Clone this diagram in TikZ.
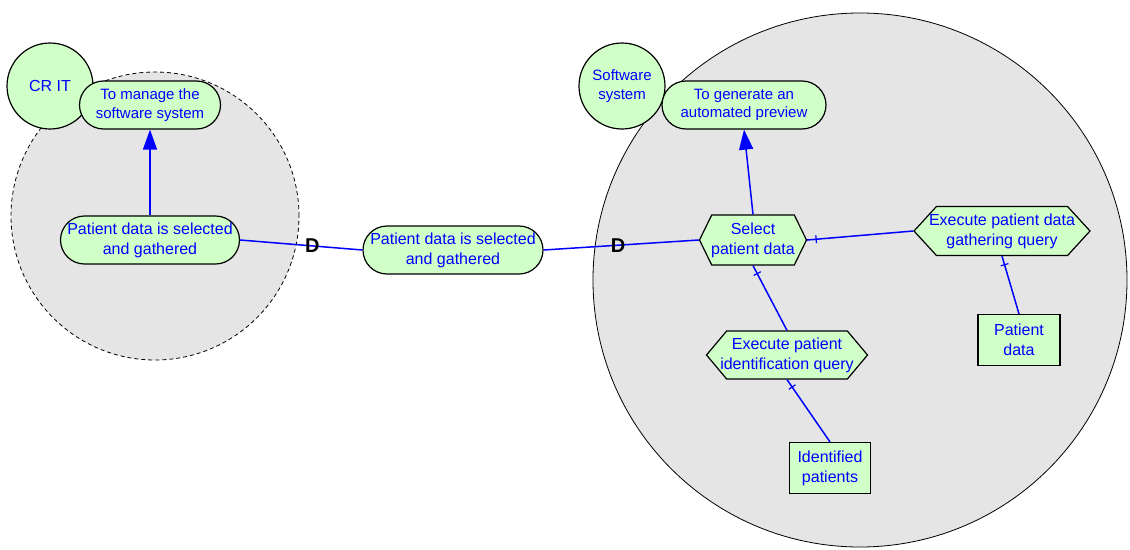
\documentclass[tikz,border=0pt]{standalone}
\usepackage{fontspec}
\setmainfont{Liberation Sans}
\usetikzlibrary{shapes.symbols,arrows.meta,decorations.markings}

\definecolor{leaf}{RGB}{208,255,200}
\definecolor{bound}{RGB}{229,229,229}
\definecolor{ink}{RGB}{0,0,255}

\newcommand{\mainsize}{\fontsize{16}{20}\selectfont}
\newcommand{\smallsize}{\fontsize{15}{18.5}\selectfont}

\tikzset{
  boundary/.style={circle, draw=black, fill=bound, line width=0.8pt, inner sep=0pt},
  actor/.style={circle, draw=black, fill=leaf, line width=1.2pt, inner sep=0pt,
    minimum size=86pt, text=ink, align=center},
  % pill-shaped goal: rectangle whose corner radius is half its height
  goal/.style={rectangle, rounded corners=24pt, draw=black, fill=leaf, line width=1.2pt,
    inner sep=0pt, minimum height=48pt, text=ink, align=center},
  task/.style={signal, signal to=east and west, draw=black, fill=leaf, line width=1.2pt,
    inner xsep=-30pt, inner ysep=0pt, text=ink, align=center, font=\mainsize},
  resource/.style={rectangle, draw=black, fill=leaf, line width=1.2pt,
    inner sep=0pt, text=ink, align=center, font=\mainsize},
  link/.style={draw=ink, line width=1.5pt},
  means/.style={link, -{Triangle[length=20pt,width=14pt]}},
  decomp/.style={link, postaction={decorate}, decoration={markings,
    mark=at position 9pt with {\draw[ink, line width=1.2pt] (0pt,-4pt) -- (0pt,4pt);}}},
  dep/.style={font=\bfseries\fontsize{20}{20}\selectfont, inner sep=0pt, text=black},
}

\begin{document}
\begin{tikzpicture}[x=1pt, y=-1pt]
\useasboundingbox (0,0) rectangle (1130,549);

% actor boundaries
\node[boundary, dashed, dash pattern=on 4pt off 3pt, minimum size=288pt] (critb) at (155,216) {};
\node[boundary, minimum size=534pt] (swb) at (860,280) {};

% actors
\node[actor, font=\mainsize] (crit) at (50,86) {CR IT};
\node[actor, font=\smallsize] (sw) at (622,86) {Software\\system};

% goals
\node[goal, font=\smallsize, minimum width=141pt] (manage) at (150,105) {To manage the\\software system};
\node[goal, font=\smallsize, minimum width=164pt] (gen) at (744,105) {To generate an\\automated preview};
\node[goal, font=\mainsize, minimum width=179pt] (lpd) at (150,240) {Patient data is selected\\and gathered};
\node[goal, font=\mainsize, minimum width=180pt] (mpd) at (453,250) {Patient data is selected\\and gathered};

% tasks
\node[task, signal pointer angle=128, minimum width=107pt, minimum height=50pt] (sel) at (753,240) {Select\\patient data};
\node[task, signal pointer angle=95, minimum width=176pt, minimum height=49pt] (gath) at (1002,231) {Execute patient data\\gathering query};
\node[task, signal pointer angle=100, minimum width=161pt, minimum height=48pt] (ident) at (787,355) {Execute patient\\identification query};

% resources
\node[resource, minimum width=82pt, minimum height=51pt] (pd) at (1019,340) {Patient\\data};
\node[resource, minimum width=81pt, minimum height=51pt] (idp) at (830,468) {Identified\\patients};

% means-end links
\draw[means] (lpd.north) -- (manage.south);
\draw[means] (sel.north) -- (gen.south);

% dependencies
\draw[link] (lpd.east) -- node[dep, pos=0.59] {D} (mpd.west);
\draw[link] (mpd.east) -- node[dep, pos=0.48] {D} (sel.west);

% decompositions
\draw[decomp] (sel.east) -- (gath.west);
\draw[decomp] (sel.south) -- (ident.north);
\draw[decomp] (gath.south) -- (pd.north);
\draw[decomp] (ident.south) -- (idp.north);
\end{tikzpicture}
\end{document}
